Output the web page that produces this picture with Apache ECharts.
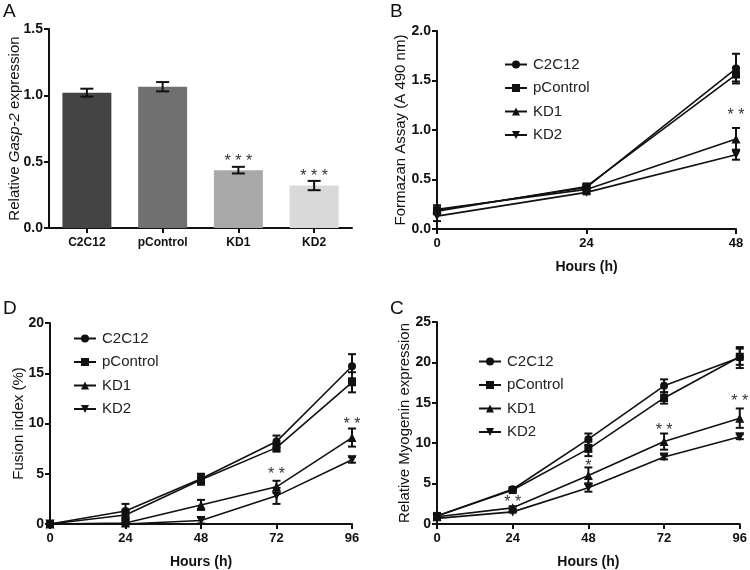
<!DOCTYPE html>
<html><head><meta charset="utf-8">
<script src="https://cdn.jsdelivr.net/npm/echarts@6/dist/echarts.min.js"></script>
<style>html,body{margin:0;padding:0;background:#fff}#c{width:750px;height:570px}</style>
</head><body><div id="c"></div>
<script>
// ---------- DATA ----------
const groups = ['C2C12', 'pControl', 'KD1', 'KD2'];
// Panel A
const gaspValues = [1.02, 1.065, 0.436, 0.32];
const gaspErrors = [0.03, 0.035, 0.025, 0.035];
const gaspStars = [[2, 0.53, '* * *'], [3, 0.42, '* * *']];
// Panel B
const hoursB = [0, 24, 48];
const formC2C12 = [0.19, 0.42, 1.62];
const formPControl = [0.18, 0.43, 1.56];
const formKD1 = [0.20, 0.40, 0.91];
const formKD2 = [0.13, 0.37, 0.75];
const formErrC2C12 = [0.03, 0.02, 0.15];
const formErrPControl = [0.03, 0.02, 0.07];
const formErrKD1 = [0.04, 0.02, 0.11];
const formErrKD2 = [0.05, 0.02, 0.05];
const formStars = [[48, 1.19, '* *']];
// Panel D
const hoursD = [0, 24, 48, 72, 96];
const fusC2C12 = [0, 1.3, 4.5, 8.2, 15.7];
const fusPControl = [0, 0.9, 4.4, 7.6, 14.1];
const fusKD1 = [0, 0.1, 1.9, 3.7, 8.6];
const fusKD2 = [0, 0, 0.35, 2.8, 6.4];
const fusErrC2C12 = [0, 0.7, 0.5, 0.6, 1.2];
const fusErrPControl = [0, 0.5, 0.5, 0.4, 1.0];
const fusErrKD1 = [0, 0.1, 0.5, 0.6, 0.9];
const fusErrKD2 = [0, 0.1, 0.3, 0.8, 0.3];
const fusStars = [[72, 5.3, '* *'], [96, 10.3, '* *']];
// Panel C
const hoursC = [0, 24, 48, 72, 96];
const myoC2C12 = [1.0, 4.3, 10.5, 17.1, 20.6];
const myoPControl = [1.0, 4.2, 9.3, 15.6, 20.7];
const myoKD1 = [0.9, 2.0, 6.0, 10.2, 13.1];
const myoKD2 = [0.7, 1.5, 4.5, 8.3, 10.8];
const myoErrC2C12 = [0.2, 0.2, 0.7, 0.8, 1.3];
const myoErrPControl = [0.2, 0.2, 0.9, 0.7, 1.0];
const myoErrKD1 = [0.1, 0.2, 1.0, 1.0, 1.2];
const myoErrKD2 = [0.1, 0.1, 0.5, 0.3, 0.3];
const myoStars = [[24, 3.1, '* *'], [48, 7.6, '*'], [72, 12.1, '* *'], [96, 15.7, '* *']];

// ---------- STYLE ----------
const FONT = 'Liberation Sans, Arial, sans-serif';
const INK = '#111';
const barColors = ['#444444', '#707070', '#a9a9a9', '#d9d9d9'];
const symbols = ['circle', 'rect', 'triangle', 'path://M0,0L10,0L5,9Z'];

const chart = echarts.init(document.getElementById('c'), null, {renderer: 'canvas'});

function zip(xs, ys, es) { return xs.map((x, i) => es ? [x, ys[i], es[i]] : [x, ys[i]]); }

function errRender(cap) {
  return function (params, api) {
    const x = api.value(0), y = api.value(1), e = api.value(2);
    if (!e) return null;
    const a = api.coord([x, y - e]), b = api.coord([x, y + e]);
    const st = {stroke: INK, lineWidth: 2};
    return {type: 'group', children: [
      {type: 'line', shape: {x1: a[0], y1: a[1], x2: b[0], y2: b[1]}, style: st},
      {type: 'line', shape: {x1: a[0] - cap / 2, y1: a[1], x2: a[0] + cap / 2, y2: a[1]}, style: st},
      {type: 'line', shape: {x1: b[0] - cap / 2, y1: b[1], x2: b[0] + cap / 2, y2: b[1]}, style: st}
    ]};
  };
}
function starRender(params, api) {
  const p = api.coord([api.value(0), api.value(1)]);
  return {type: 'text', x: p[0], y: p[1] + 4, style: {text: api.value(2), font: '16px ' + FONT, fill: '#333', align: 'center', verticalAlign: 'middle'}};
}

const grids = [
  {left: 49, top: 29, width: 303, height: 199},
  {left: 437, top: 31, width: 299, height: 198},
  {left: 50, top: 323, width: 302, height: 202},
  {left: 437, top: 322, width: 305, height: 203}
];

function yAx(gi, max, interval, dec, name, gap, rich) {
  return {
    type: 'value', gridIndex: gi, min: 0, max: max, interval: interval,
    axisLine: {show: true, lineStyle: {color: INK, width: 2}},
    axisTick: {show: true, length: 5, lineStyle: {color: INK, width: 2}},
    splitLine: {show: false},
    axisLabel: {margin: 6, color: INK, fontFamily: FONT, fontWeight: 'bold', fontSize: 14,
      formatter: v => v.toFixed(dec)},
    name: name, nameLocation: 'middle', nameGap: gap, nameRotate: 90, nameMoveOverlap: false,
    nameTextStyle: {color: INK, fontFamily: FONT, fontSize: 15, rich: rich}
  };
}
function xAx(gi, max) {
  return {
    type: 'value', gridIndex: gi, min: 0, max: max, interval: 24,
    axisLine: {show: true, onZero: false, lineStyle: {color: INK, width: 2}},
    axisTick: {show: true, length: 5, lineStyle: {color: INK, width: 2}},
    splitLine: {show: false},
    axisLabel: {margin: 8, color: INK, fontFamily: FONT, fontWeight: 'bold', fontSize: 13},
    name: 'Hours (h)', nameLocation: 'middle', nameGap: 31, nameMoveOverlap: false,
    nameTextStyle: {color: INK, fontFamily: FONT, fontSize: 14, fontWeight: 'bold'}
  };
}

const xAxes = [
  {type: 'category', gridIndex: 0, data: groups,
   axisLine: {show: true, lineStyle: {color: INK, width: 2}},
   axisTick: {show: true, alignWithLabel: true, length: 5, lineStyle: {color: INK, width: 2}},
   axisLabel: {margin: 9, color: INK, fontFamily: FONT, fontWeight: 'bold', fontSize: 12}},
  xAx(1, 48), xAx(2, 96), xAx(3, 96)
];
const yAxes = [
  yAx(0, 1.5, 0.5, 1, '{n|Relative }{i|Gasp-2}{n| expression}', 27,
      {n: {fontFamily: FONT, fontSize: 15, color: INK}, i: {fontFamily: FONT, fontSize: 15, color: INK, fontStyle: 'italic'}}),
  yAx(1, 2.0, 0.5, 1, 'Formazan Assay (A 490 nm)', 29),
  yAx(2, 20, 5, 0, 'Fusion index (%)', 24),
  yAx(3, 25, 5, 0, 'Relative Myogenin expression', 25)
];

const series = [];
// Panel A bars
series.push({type: 'bar', name: 'Gasp-2', xAxisIndex: 0, yAxisIndex: 0, barWidth: 49,
  data: gaspValues.map((v, i) => ({value: v, itemStyle: {color: barColors[i]}})), z: 2});
series.push({type: 'custom', xAxisIndex: 0, yAxisIndex: 0, renderItem: errRender(13),
  data: gaspValues.map((v, i) => [i, v, gaspErrors[i]]), z: 5});
series.push({type: 'custom', xAxisIndex: 0, yAxisIndex: 0, renderItem: starRender, data: gaspStars, z: 5});

function addLinePanel(ai, hours, vals, errs, stars) {
  vals.forEach((v, i) => {
    series.push({type: 'line', name: groups[i], xAxisIndex: ai, yAxisIndex: ai,
      data: zip(hours, v), symbol: symbols[i], symbolSize: i >= 2 ? 9 : 8,
      lineStyle: {color: INK, width: 1.6}, itemStyle: {color: INK}, z: 3});
    series.push({type: 'custom', xAxisIndex: ai, yAxisIndex: ai, renderItem: errRender(8),
      data: zip(hours, v, errs[i]), z: 4});
  });
  series.push({type: 'custom', xAxisIndex: ai, yAxisIndex: ai, renderItem: starRender, data: stars, z: 5});
}
addLinePanel(1, hoursB, [formC2C12, formPControl, formKD1, formKD2],
  [formErrC2C12, formErrPControl, formErrKD1, formErrKD2], formStars);
addLinePanel(2, hoursD, [fusC2C12, fusPControl, fusKD1, fusKD2],
  [fusErrC2C12, fusErrPControl, fusErrKD1, fusErrKD2], fusStars);
addLinePanel(3, hoursC, [myoC2C12, myoPControl, myoKD1, myoKD2],
  [myoErrC2C12, myoErrPControl, myoErrKD1, myoErrKD2], myoStars);

function leg(left, top) {
  return {data: groups, orient: 'vertical', left: left, top: top, itemWidth: 22, itemHeight: 10,
    itemGap: 8.5, selectedMode: false,
    textStyle: {fontFamily: FONT, fontSize: 15, color: '#222', padding: [0, 0, 0, 1]}};
}

function letter(t, x, y) {
  return {type: 'text', left: x, top: y, style: {text: t, font: '19px ' + FONT, fill: INK}};
}

chart.setOption({
  animation: false,
  backgroundColor: '#fff',
  grid: grids,
  xAxis: xAxes,
  yAxis: yAxes,
  legend: [leg(499, 52), leg(68, 326), leg(473, 349)],
  graphic: [letter('A', 3, 2), letter('B', 390, 2), letter('D', 3, 299), letter('C', 390, 299)],
  series: series
});
</script></body></html>
